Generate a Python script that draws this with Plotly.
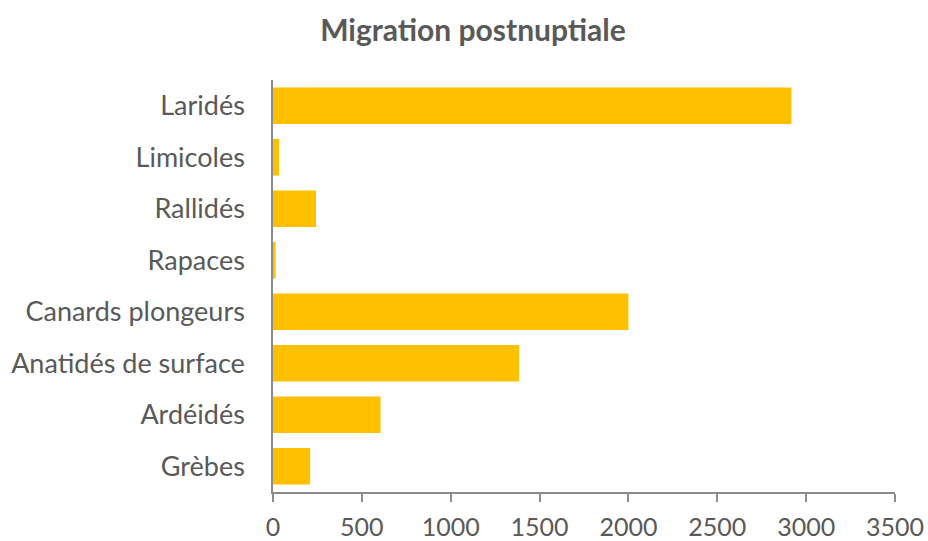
import plotly.graph_objects as go

categories = ["Laridés", "Limicoles", "Rallidés", "Rapaces", "Canards plongeurs",
              "Anatidés de surface", "Ardéidés", "Grèbes"]
values = [2917, 34, 242, 14, 2000, 1385, 605, 209]
x_ticks = [0, 500, 1000, 1500, 2000, 2500, 3000, 3500]

fig = go.Figure(go.Bar(
    x=values, y=categories, orientation="h",
    marker=dict(color="#FFC000", line=dict(width=0)),
))

font_family = "Lato, 'Noto Sans', sans-serif"
fig.update_layout(
    width=928, height=541,
    margin=dict(l=273, r=33, t=80, b=49, autoexpand=False),
    paper_bgcolor="white", plot_bgcolor="white",
    bargap=0.29,
    showlegend=False,
    title=dict(text="<b>Migration postnuptiale</b>", x=0.5097, xanchor="center",
               y=0.9445, yanchor="middle",
               font=dict(family=font_family, size=30, color="#595959")),
    xaxis=dict(range=[0, 3500], tickvals=x_ticks, ticktext=[str(v) for v in x_ticks],
               showgrid=False, zeroline=False, showline=True, linecolor="#8C8C8C",
               linewidth=1.5, ticks="outside", ticklen=8, tickcolor="#8C8C8C",
               tickwidth=1.5, ticklabelstandoff=4,
               tickfont=dict(family=font_family, size=25, color="#595959")),
    yaxis=dict(autorange="reversed", showgrid=False, zeroline=False, showline=True,
               linecolor="#8C8C8C", linewidth=1.5, ticks="", ticklabelstandoff=21,
               tickfont=dict(family=font_family, size=27, color="#595959")),
)

fig.write_html(
    "out.html",
    config={"displayModeBar": False},
    post_script="document.body.style.margin='0';document.body.style.overflow='hidden';",
)
